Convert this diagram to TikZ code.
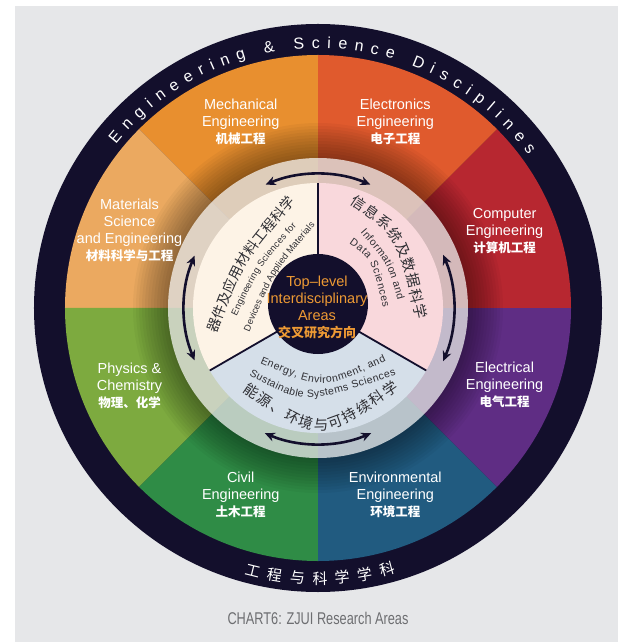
\documentclass[tikz,border=0pt]{standalone}
\usepackage{fontspec}
\setmainfont{Liberation Sans}
\newfontfamily\cjk{Noto Sans CJK SC}
\newfontfamily\capfont[FakeStretch=0.75]{Liberation Sans}
\usetikzlibrary{decorations.text,arrows.meta}
\definecolor{bgC}{HTML}{E6E7E9}
\definecolor{navyC}{HTML}{130F2C}
\definecolor{mechC}{HTML}{E88F2F}
\definecolor{etrC}{HTML}{E05A2D}
\definecolor{comC}{HTML}{B72730}
\definecolor{eleC}{HTML}{5F2D84}
\definecolor{envC}{HTML}{215B80}
\definecolor{civC}{HTML}{2F8C46}
\definecolor{phyC}{HTML}{7DAA3F}
\definecolor{matC}{HTML}{EBA960}
\definecolor{ulC}{HTML}{FDF3E6}
\definecolor{urC}{HTML}{F9D8DC}
\definecolor{botC}{HTML}{D5DFE9}
\definecolor{orC}{HTML}{EE9A34}
\definecolor{inkC}{HTML}{2E2E33}
\definecolor{capC}{HTML}{6D6E71}
\begin{document}
\begin{tikzpicture}[x=1pt,y=1pt,
  seclabel/.style={text=white,align=center,font=\fontsize{14.5}{17}\selectfont},
  twoarrow/.style={navyC,line width=2.6pt,{Stealth[length=10pt,width=9pt]}-{Stealth[length=10pt,width=9pt]}},
  divline/.style={navyC,line width=1.8pt}]
\newcommand{\cjkbold}[1]{{\cjk\bfseries\fontsize{12.5}{17}\selectfont #1}}
%Page and grey panel
\useasboundingbox (-318,-334) rectangle (300,308);
\fill[white] (-318,-334) rectangle (300,308);
\fill[bgC] (-303,-334) rectangle (300,302);
%Outer ring
\fill[navyC] (0,0) circle[radius=284];
%The eight disciplines
\foreach \col [count=\i from 0] in {mechC,matC,phyC,civC,envC,eleC,comC,etrC} {
  \fill[\col] (0,0) -- ({90+45*\i}:253) arc[start angle={90+45*\i}, delta angle=45, radius=253] -- cycle;
}
%Shadow round the inner ring
\foreach \r in {152,155,...,185} {
  \fill[black,opacity=0.035] (0,0) circle[radius=\r];
}
%Light ring
\fill[white,opacity=0.7] (0,0) circle[radius=150];
%Inner disc, three areas
\fill[ulC] (0,0) -- (90:125) arc[start angle=90,end angle=210,radius=125] -- cycle;
\fill[botC] (0,0) -- (210:125) arc[start angle=210,end angle=330,radius=125] -- cycle;
\fill[urC] (0,0) -- (330:125) arc[start angle=-30,end angle=90,radius=125] -- cycle;
\foreach \a in {90,210,330} {
  \draw[divline] (0,0) -- (\a:125);
}
%Centre
\fill[navyC] (0,4) circle[radius=50];
\node[text=orC,align=center,font=\fontsize{14.5}{17}\selectfont] (core) at (-1,1) {Top–level\\Interdisciplinary\\Areas\\{\cjk\bfseries\fontsize{13}{17}\selectfont 交叉研究方向}};
%Arrows on the ring
\draw[twoarrow] (67:134) arc[start angle=67,end angle=113,radius=134];
\draw[twoarrow] (157:134) arc[start angle=157,end angle=203,radius=134];
\draw[twoarrow] (247:136) arc[start angle=247,end angle=293,radius=136];
\draw[twoarrow] (-23:136) arc[start angle=-23,end angle=23,radius=136];
%Discipline labels
\node[seclabel] (mech) at (112.5:202) {Mechanical\\Engineering\\\cjkbold{机械工程}};
\node[seclabel] (etr) at (67.5:202) {Electronics\\Engineering\\\cjkbold{电子工程}};
\node[seclabel] (com) at (22.5:202) {Computer\\Engineering\\\cjkbold{计算机工程}};
\node[seclabel] (ele) at (-22.5:202) {Electrical\\Engineering\\\cjkbold{电气工程}};
\node[seclabel] (env) at (-67.5:202) {Environmental\\Engineering\\\cjkbold{环境工程}};
\node[seclabel] (civ) at (-112.5:202) {Civil\\Engineering\\\cjkbold{土木工程}};
\node[seclabel] (phy) at (-157.5:204) {Physics \&\\Chemistry\\\cjkbold{物理、化学}};
\node[seclabel] (mat) at (157.5:204) {Materials\\Science\\and Engineering\\\cjkbold{材料科学与工程}};
%Texts along the outer ring
\path[decorate,decoration={text along path,text color=white,text align=fit to path,
  text={|\fontsize{16}{16}\selectfont|Engineering {\&} Science Disciplines}}]
  (141:260) arc[start angle=141,end angle=36,radius=260];
\path[decorate,decoration={text along path,text color=white,text align=fit to path,
  text={|\cjk\fontsize{15}{15}\selectfont|工程与科学学科}}]
  (254.5:276) arc[start angle=254.5,end angle=286.4,radius=276];
%Upper left area
\path[decorate,decoration={text along path,text color=inkC,text align=fit to path,
  text={|\cjk\fontsize{14}{14}\selectfont|器件及应用材料工程科学}}]
  (-101.4,-25.9) .. controls (-73.6,46.9) .. (-22.5,106.1);
\path[decorate,decoration={text along path,text color=inkC,text align=fit to path,
  text={|\fontsize{9.3}{9.3}\selectfont|Engineering Sciences for}}]
  (-81.4,-8.4) .. controls (-58,41) .. (-21.3,81.6);
\path[decorate,decoration={text along path,text color=inkC,text align=fit to path,
  text={|\fontsize{9.3}{9.3}\selectfont|Devices and Applied Materials}}]
  (-68.6,-24) .. controls (-44.3,34.7) .. (-2.8,82.9);
%Upper right area
\path[decorate,decoration={text along path,text color=inkC,text align=fit to path,
  text={|\cjk\fontsize{14.5}{14.5}\selectfont|信息系统及数据科学}}]
  (31.3,104.3) .. controls (80.2,71) .. (98.2,-11.5);
\path[decorate,decoration={text along path,text color=inkC,text align=fit to path,
  text={|\fontsize{10.5}{10.5}\selectfont|Information and}}]
  (42.4,75.2) .. controls (69.3,44.7) .. (79.8,7.4);
\path[decorate,decoration={text along path,text color=inkC,text align=fit to path,
  text={|\fontsize{10.5}{10.5}\selectfont|Data Sciences}}]
  (31.2,64.7) .. controls (53.2,49.1) .. (65.2,0.3);
%Bottom area
\path[decorate,decoration={text along path,text color=inkC,text align=fit to path,
  text={|\fontsize{10.5}{10.5}\selectfont|Energy, Environment, and}}]
  (-58,-55) .. controls (5,-82) .. (68,-53);
\path[decorate,decoration={text along path,text color=inkC,text align=fit to path,
  text={|\fontsize{10.5}{10.5}\selectfont|Sustainable Systems Sciences}}]
  (-69,-67) .. controls (-14.5,-97) .. (78,-67);
\path[decorate,decoration={text along path,text color=inkC,text align=fit to path,
  text={|\cjk\fontsize{14.5}{14.5}\selectfont|能源、环境与可持续科学}}]
  (-76,-83) .. controls (2.2,-136) .. (81.5,-81.5);
%Caption
\node[text=capC,font=\capfont\fontsize{17}{17}\selectfont] (cap) at (0,-310) {CHART6: ZJUI Research Areas};
\end{tikzpicture}
\end{document}
